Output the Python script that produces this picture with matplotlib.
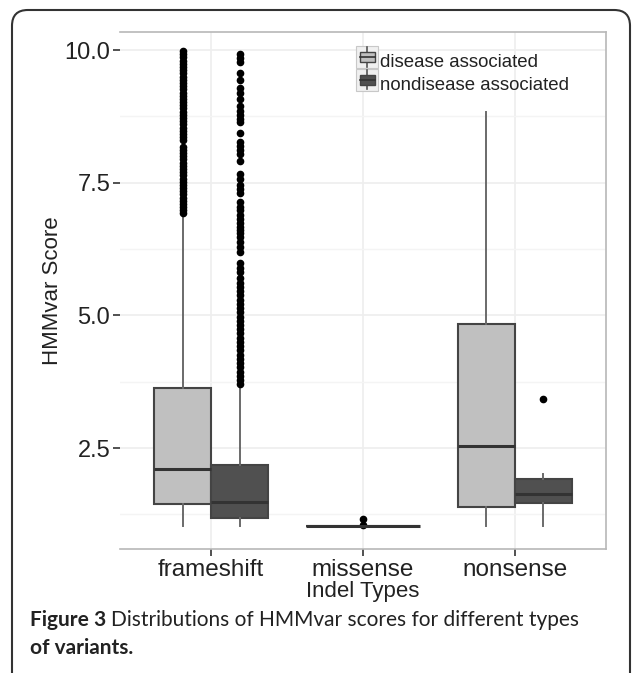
import matplotlib
matplotlib.use("Agg")
import matplotlib.pyplot as plt
from matplotlib.patches import FancyBboxPatch, Rectangle
from matplotlib.lines import Line2D
from matplotlib.legend_handler import HandlerBase

# indel types and groups
categories = ["frameshift", "missense", "nonsense"]
groups = ["disease associated", "nondisease associated"]
fills = ["#c0c0c0", "#505050"]

# box statistics: (whislo, q1, med, q3, whishi)
frameshift_dis = (1.03, 1.44, 2.10, 3.63, 6.90)
frameshift_non = (1.03, 1.18, 1.48, 2.18, 3.66)
missense_dis = (1.03, 1.03, 1.03, 1.03, 1.03)
nonsense_dis = (1.04, 1.39, 2.54, 4.83, 8.84)
nonsense_non = (1.04, 1.47, 1.63, 1.91, 2.01)

frameshift_dis_out = [9.98, 9.92, 9.86, 9.80, 9.74, 9.68, 9.62, 9.56, 9.50, 9.44,
                      9.38, 9.32, 9.26, 9.20, 9.14, 9.08, 9.02, 8.96, 8.90, 8.84,
                      8.78, 8.72, 8.66, 8.60, 8.54, 8.48, 8.42, 8.36, 8.30, 8.18,
                      8.12, 8.06, 8.00, 7.94, 7.88, 7.82, 7.76, 7.70, 7.64, 7.58,
                      7.52, 7.46, 7.40, 7.34, 7.28, 7.22, 7.16, 7.10, 7.04, 6.98, 6.93]
frameshift_non_out = [9.92, 9.85, 9.78, 9.57, 9.43, 9.28, 9.20, 9.07, 8.94, 8.86,
                      8.78, 8.70, 8.65, 8.43, 8.27, 8.20, 8.12, 8.05, 7.91, 7.66,
                      7.57, 7.46, 7.38, 7.31, 7.14, 7.05, 6.98, 6.90, 6.82, 6.74,
                      6.67, 6.61, 6.55, 6.47, 6.38, 6.29, 6.20, 5.98, 5.90, 5.82,
                      5.70, 5.62, 5.54, 5.46, 5.38, 5.30, 5.22, 5.14, 5.06, 4.98,
                      4.90, 4.82, 4.74, 4.66, 4.58, 4.50, 4.42, 4.34, 4.26, 4.18,
                      4.10, 4.02, 3.94, 3.86, 3.78, 3.70]
missense_out = [1.05, 1.17]
nonsense_dis_out = []
nonsense_non_out = [3.42]

yticks = [2.5, 5.0, 7.5, 10.0]
yticklabels = ["2.5", "5.0", "7.5", "10.0"]

plt.rcParams['font.family'] = ['Liberation Sans', 'DejaVu Sans']


def stats(s, fl):
    lo, q1, med, q3, hi = s
    return dict(whislo=lo, q1=q1, med=med, q3=q3, whishi=hi, fliers=fl)


fig = plt.figure(figsize=(6.33, 6.73), dpi=100)
ax = fig.add_axes([120 / 633, 1 - 549 / 673, 486 / 633, 517 / 673])

# (category index, group index, stats, outliers, dodge offset, width)
boxes = [
    (0, 0, frameshift_dis, frameshift_dis_out, -0.1875, 0.375),
    (0, 1, frameshift_non, frameshift_non_out, 0.1875, 0.375),
    (1, 0, missense_dis, missense_out, 0.0, 0.75),
    (2, 0, nonsense_dis, nonsense_dis_out, -0.1875, 0.375),
    (2, 1, nonsense_non, nonsense_non_out, 0.1875, 0.375),
]

for ci, gi, s, fl, off, w in boxes:
    ax.bxp([stats(s, fl)], positions=[ci + 1 + off], widths=w,
           patch_artist=True, showcaps=False,
           boxprops=dict(facecolor=fills[gi], edgecolor="#444444", linewidth=1.5),
           medianprops=dict(color="#333333", linewidth=2.2),
           whiskerprops=dict(color="#6a6a6a", linewidth=1.4),
           flierprops=dict(marker="o", markerfacecolor="black", markeredgecolor="black",
                           markersize=4.5, linestyle="none"),
           zorder=3)

ax.set_xlim(0.4, 3.6)
ax.set_ylim(0.6, 10.34)
ax.set_xticks([1, 2, 3])
ax.set_xticklabels(categories, fontsize=17.5, color="#222222")
ax.set_yticks(yticks)
ax.set_yticklabels(yticklabels, fontsize=17, color="#222222")
ax.set_yticks([1.25, 3.75, 6.25, 8.75], minor=True)
ax.tick_params(axis="both", which="major", length=5, width=1.2, color="#333333", pad=2)
ax.tick_params(axis="y", which="minor", length=0)
ax.grid(True, which="major", color="#eeeeee", linewidth=1.2, zorder=0)
ax.grid(True, which="minor", axis="y", color="#f4f4f4", linewidth=1.0, zorder=0)
ax.set_axisbelow(True)
for side in ["top", "right", "bottom"]:
    ax.spines[side].set_color("#b8b8b8")
    ax.spines[side].set_linewidth(1.2)
ax.spines["left"].set_visible(False)

ax.set_ylabel("HMMvar Score", fontsize=16, color="#222222", labelpad=1)
ax.set_xlabel("Indel Types", fontsize=16, color="#222222", labelpad=0)


class BoxKey(HandlerBase):
    def __init__(self, fill):
        super().__init__()
        self.fill = fill

    def create_artists(self, legend, orig_handle, xd, yd, width, height, fontsize, trans):
        bg = Rectangle((xd - 1, yd - 2), width + 2, height + 4, facecolor="#f0f0f0",
                       edgecolor="#c8c8c8", linewidth=0.8, transform=trans)
        cx = xd + width / 2
        whisk = Line2D([cx, cx], [yd - 1, yd + height + 1], color="#555555", linewidth=1.2,
                       transform=trans)
        box = Rectangle((xd + width * 0.1, yd + height * 0.2), width * 0.8, height * 0.6,
                        facecolor=self.fill, edgecolor="#444444", linewidth=1.0,
                        transform=trans)
        med = Line2D([xd + width * 0.1, xd + width * 0.9], [yd + height / 2] * 2,
                     color="#333333", linewidth=1.2, transform=trans)
        return [bg, whisk, box, med]


h0 = Rectangle((0, 0), 1, 1)
h1 = Line2D([0], [0])
leg = ax.legend([h0, h1], groups, loc="upper left", bbox_to_anchor=(0.462, 0.985),
                frameon=False, fontsize=13.4, handlelength=1.05, handleheight=1.0,
                handletextpad=0.15, labelspacing=0.2, borderpad=0.2,
                handler_map={h0: BoxKey(fills[0]), h1: BoxKey(fills[1])})
for t in leg.get_texts():
    t.set_color("#222222")

# outer frame of the figure panel
frame = FancyBboxPatch((12 / 633, -0.05), 618 / 633, (673 - 10) / 673 + 0.05,
                       boxstyle="round,pad=0,rounding_size=0.025",
                       transform=fig.transFigure, facecolor="none",
                       edgecolor="#333333", linewidth=1.5, mutation_aspect=633 / 673)
fig.patches.append(frame)

# caption
cap_font = ['Lato', 'DejaVu Sans']
fig.canvas.draw()
r = fig.canvas.get_renderer()
t1 = fig.text(30 / 633, 1 - 620 / 673, "Figure 3", fontsize=15, fontweight="bold",
              family=cap_font, color="#222222", va="center")
bb = t1.get_window_extent(renderer=r)
fig.text(bb.x1 / 633 + 0.008, 1 - 620 / 673, "Distributions of HMMvar scores for different types",
         fontsize=15, family=cap_font, color="#222222", va="center")
fig.text(30 / 633, 1 - 648 / 673, "of variants.", fontsize=15, fontweight="bold",
         family=cap_font, color="#222222", va="center")

fig.savefig("out.png", dpi=100)
